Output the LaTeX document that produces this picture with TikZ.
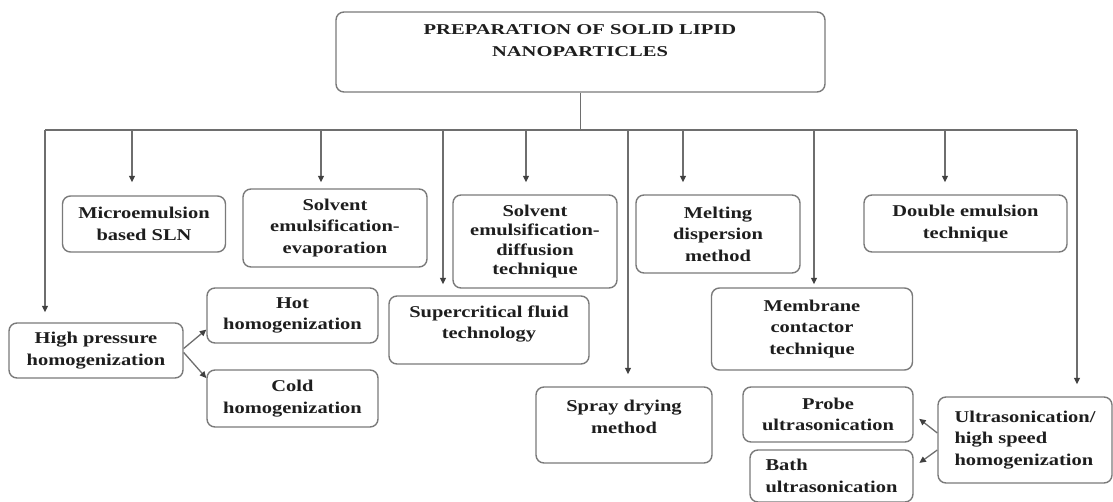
\documentclass[tikz,border=0pt]{standalone}
\usepackage{fontspec}
\setmainfont{Liberation Serif}[FakeStretch=1.24]
\newfontfamily\headfont{Liberation Serif}[FakeStretch=1.37]
\usetikzlibrary{arrows.meta,calc}
\definecolor{cLine}{HTML}{6E6E6E}
\definecolor{cBorder}{HTML}{7A7A7A}
\definecolor{cText}{HTML}{1E1E1E}

\begin{document}
\begin{tikzpicture}[
    x=1pt, y=-1pt,
    font=\fontsize{16.5}{21.5}\selectfont\bfseries,
    box/.style={draw=cBorder, line width=1.4pt, rounded corners=8pt, align=center, inner sep=2pt, text=cText},
    txt/.style={align=center, inner sep=0pt, text=cText},
    line/.style={draw=cLine, line width=1.3pt},
    arr/.style={line, -{Triangle[length=6.5pt,width=6pt,color=black!75]}},
  ]
  \useasboundingbox (0,0) rectangle (1113,502);

  % --- root ---
  \node[box, minimum width=489pt, minimum height=80pt] (root) at (580.5,52) {};
  \node[txt, font=\headfont\fontsize{15}{22}\selectfont\bfseries] (roottxt) at (580,41)
    {PREPARATION OF SOLID LIPID\\NANOPARTICLES};

  % --- upper row ---
  \node[box, minimum width=163pt, minimum height=56pt] (micro) at (144,224) {Microemulsion\\based SLN};
  \node[box, minimum width=184pt, minimum height=78pt] (evap) at (335,228) {Solvent\\emulsification-\\evaporation};
  \node[box, minimum width=164pt, minimum height=93pt, font=\fontsize{16.5}{19.5}\selectfont\bfseries] (diff) at (535,241.5)
    {Solvent\\emulsification-\\diffusion\\technique};
  \node[box, minimum width=164pt, minimum height=78pt] (melt) at (718,234) {Melting\\dispersion\\method};
  \node[box, minimum width=203pt, minimum height=57pt] (double) at (965.5,223.5) {Double emulsion\\technique};

  % --- lower boxes ---
  \node[box, minimum width=174pt, minimum height=55pt] (hph) at (96,350.5) {High pressure\\homogenization};
  \node[box, minimum width=171pt, minimum height=55pt] (hot) at (292.5,315.5) {Hot\\homogenization};
  \node[box, minimum width=171pt, minimum height=57pt] (cold) at (292.5,398.5) {Cold\\homogenization};
  \node[box, minimum width=200pt, minimum height=68pt] (fluid) at (489,330) {};
  \node[txt] (fluidtxt) at (489,324) {Supercritical fluid\\technology};
  \node[box, minimum width=176pt, minimum height=76pt] (spray) at (624,425) {};
  \node[txt] (spraytxt) at (624,417) {Spray drying\\method};
  \node[box, minimum width=201pt, minimum height=82pt] (memb) at (812,329) {Membrane\\contactor\\technique};
  \node[box, minimum width=170pt, minimum height=55pt] (probe) at (828,414.5) {Probe\\ultrasonication};
  \node[box, minimum width=163pt, minimum height=52pt, align=left] (bath) at (831.5,476) {Bath\\ultrasonication};
  \node[box, minimum width=174pt, minimum height=86pt, align=left] (ultra) at (1025,440)
    {Ultrasonication/\\high speed\\homogenization};

  % --- bus and drops ---
  \coordinate (busL) at (45,130);
  \coordinate (busR) at (1077,130);
  \draw[line] (root.south) -- (root.south |- busL);
  \draw[line] (busL) -- (busR);
  \foreach \x/\t/\g in {45/hph/10, 132/micro/13, 321/evap/6, 443/fluid/11, 526/diff/12,
                        628/spray/12, 683/melt/12, 814/memb/3, 945/double/12, 1077/ultra/12}
    \draw[arr, shorten >=\g pt] (\x,0 |- busL) -- (\x,0 |- \t.north);

  % --- side branches ---
  \draw[arr] ([yshift=2pt]hph.east) -- ($(hot.west)!0.5!(hot.south west)$);
  \draw[arr] ([yshift=-2pt]hph.east) -- ($(cold.north west)!0.3!(cold.west)$);
  \draw[arr, shorten >=7pt] ([yshift=7pt]ultra.west) -- (probe.east);
  \draw[arr, shorten >=7pt] ([yshift=-10pt]ultra.west) -- ([yshift=9pt]bath.east);
\end{tikzpicture}
\end{document}
